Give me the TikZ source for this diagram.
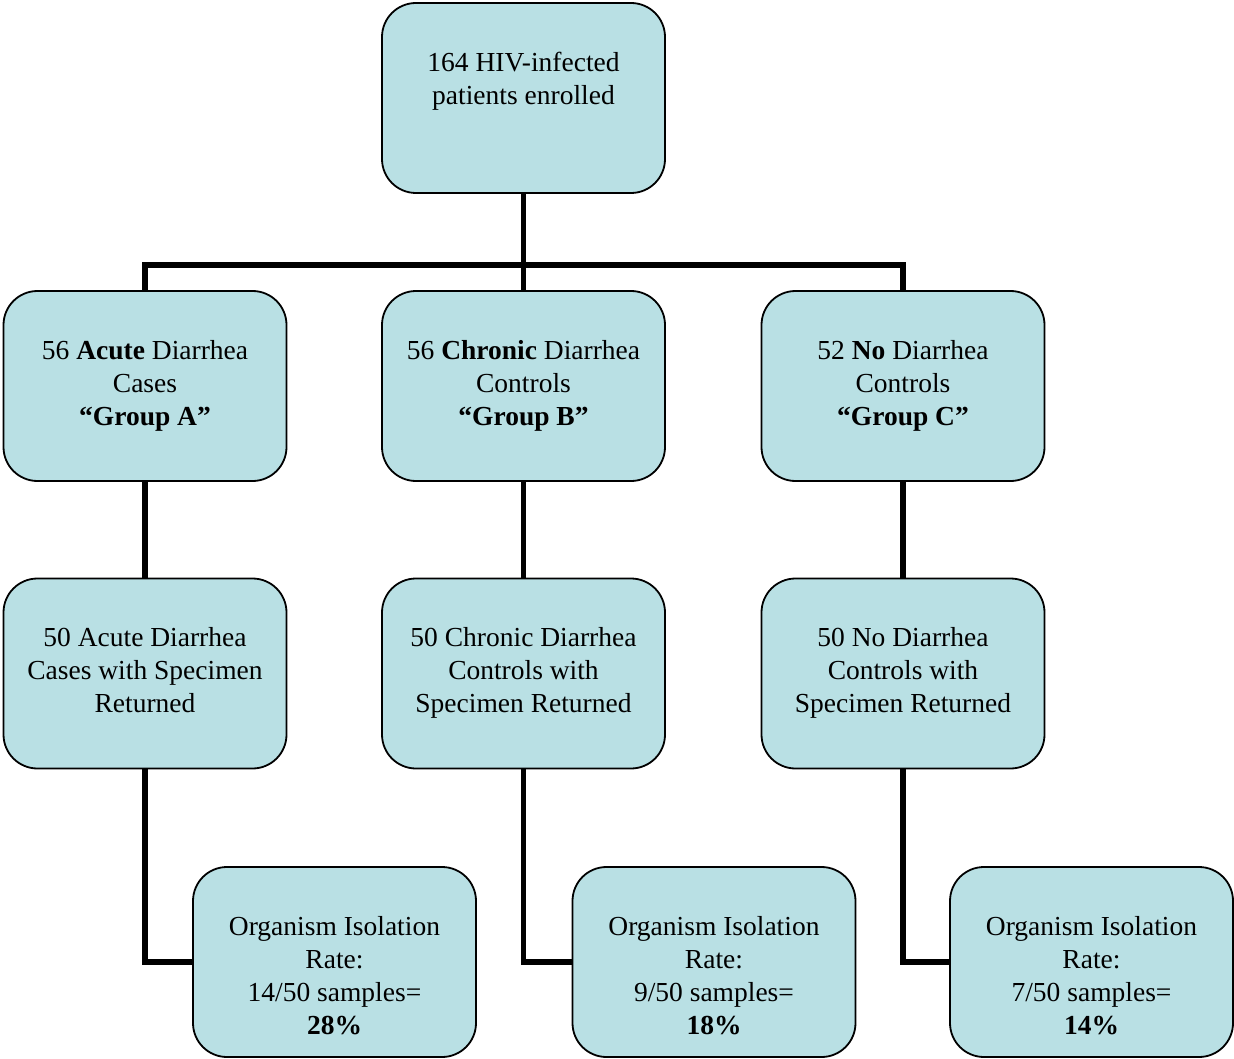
\documentclass[tikz,border=0pt]{standalone}
\usepackage{fontspec}
\setmainfont{Liberation Serif}
\definecolor{boxfill}{RGB}{185,224,228}
\begin{document}
\begin{tikzpicture}[x=1pt,y=-1pt,
  stagebox/.style={draw=black, line width=1.8pt, fill=boxfill,
    rounded corners=34pt, minimum width=283pt, minimum height=190pt,
    inner sep=0pt},
  conn/.style={line width=5.5pt, line join=miter}]
\newcommand{\boxtext}[1]{\parbox[c][92pt][t]{278pt}{\centering\fontsize{27.5}{33}\selectfont #1}}
\useasboundingbox (0,0) rectangle (1234,1059);

% enrolment
\node[stagebox] (top) at (523.5,98) {\boxtext{164 HIV-infected\\patients enrolled}};

% groups
\node[stagebox] (ga) at (145,386) {\boxtext{56 \textbf{Acute} Diarrhea\\Cases\\\textbf{“Group A”}}};
\node[stagebox] (gb) at (523.5,386) {\boxtext{56 \textbf{Chronic} Diarrhea\\Controls\\\textbf{“Group B”}}};
\node[stagebox] (gc) at (903,386) {\boxtext{52 \textbf{No} Diarrhea\\Controls\\\textbf{“Group C”}}};

% specimens returned
\node[stagebox] (sa) at (145,673.5) {\boxtext{50 Acute Diarrhea\\Cases with Specimen\\Returned}};
\node[stagebox] (sb) at (523.5,673.5) {\boxtext{50 Chronic Diarrhea\\Controls with\\Specimen Returned}};
\node[stagebox] (sc) at (903,673.5) {\boxtext{50 No Diarrhea\\Controls with\\Specimen Returned}};

% isolation rates
\node[stagebox] (ra) at (334.5,962) {\boxtext{Organism Isolation\\Rate:\\14/50 samples=\\\textbf{28\%}}};
\node[stagebox] (rb) at (714,962) {\boxtext{Organism Isolation\\Rate:\\9/50 samples=\\\textbf{18\%}}};
\node[stagebox] (rc) at (1091.5,962) {\boxtext{Organism Isolation\\Rate:\\7/50 samples=\\\textbf{14\%}}};

% connectors
\coordinate (bar) at (0,265);
\draw[conn] (top.south) -- (gb.north);
\draw[conn] (ga.north) -- (ga.north |- bar) -- (gc.north |- bar) -- (gc.north);
\draw[conn] (ga.south) -- (sa.north);
\draw[conn] (gb.south) -- (sb.north);
\draw[conn] (gc.south) -- (sc.north);
\draw[conn] (sa.south) |- (ra.west);
\draw[conn] (sb.south) |- (rb.west);
\draw[conn] (sc.south) |- (rc.west);
\end{tikzpicture}
\end{document}
